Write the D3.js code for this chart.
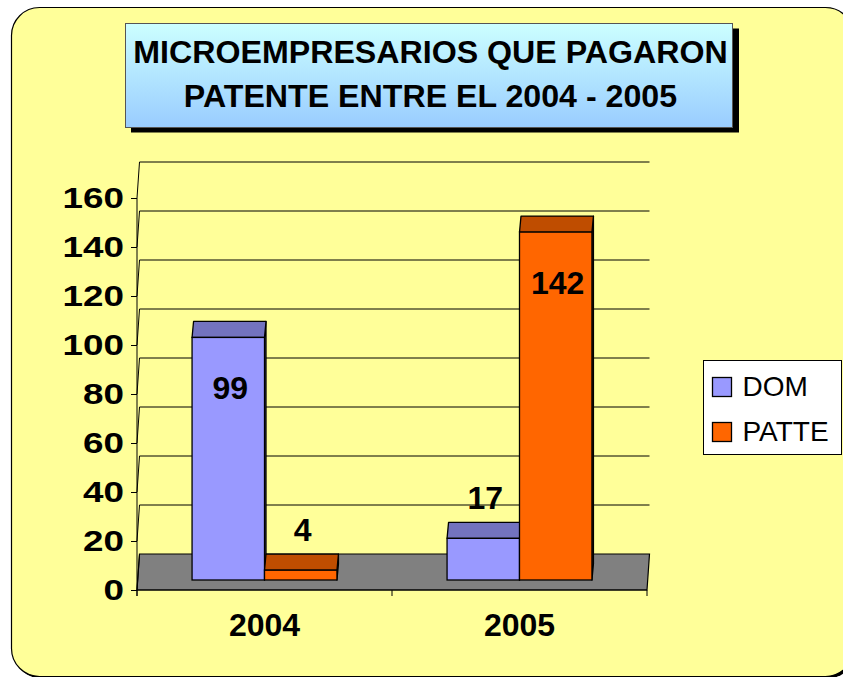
<!DOCTYPE html>
<html>
<head>
<meta charset="utf-8">
<script src="https://cdn.jsdelivr.net/npm/d3@7"></script>
<style>
  body { margin: 0; background: #fff; }
  svg { display: block; font-family: "Liberation Sans", Arial, sans-serif; }
</style>
</head>
<body>
<svg id="chart" width="843" height="677"></svg>
<script>
'use strict';

// data
const years = ['2004', '2005'];
const series = ['DOM', 'PATTE'];
const DOM = [99, 17];
const PATTE = [4, 142];
const yTicks = [0, 20, 40, 60, 80, 100, 120, 140, 160];
const titleLines = ['MICROEMPRESARIOS QUE PAGARON', 'PATENTE ENTRE EL 2004 - 2005'];

const colors = { DOM: '#9999ff', PATTE: '#ff6600' };
const darker = { DOM: '#7373bf', PATTE: '#bf4d00' };

const svg = d3.select('#chart');

// chart area with shadow
svg.append('rect')
	.attr('x', 13.5).attr('y', 9.5).attr('width', 842).attr('height', 669)
	.attr('rx', 28).attr('fill', '#000');
svg.append('rect')
	.attr('x', 11.5).attr('y', 7.5).attr('width', 842).attr('height', 669)
	.attr('rx', 28).attr('fill', '#ffff99').attr('stroke', '#000').attr('stroke-width', 1.2);

// 3d geometry: front / back offsets
const depth = { dx: 2.5, dy: -36 };
const barDepth = { dx: 1.5, dy: -16 };

const x0 = d3.scaleBand().domain(years).range([137, 647]);
const x1 = d3.scaleBand().domain(series).range([0, x0.bandwidth()]).paddingOuter(0.76);

const yAxis = d3.scaleLinear().domain([0, 160]).range([590, 198]);
const yBar = d3.scaleLinear().domain([0, 160]).range([580, 188]);
const yBack = v => yAxis(v) + depth.dy;

const g = svg.append('g');

// floor
const floor = [[137, 590], [137 + depth.dx, 554], [647 + depth.dx, 554], [647, 590]];
g.append('path')
	.attr('d', d3.line()(floor) + 'Z')
	.attr('fill', '#808080')
	.attr('stroke', '#000')
	.attr('stroke-width', 1.2);

// back wall gridlines
g.append('g')
	.selectAll('line')
	.data(yTicks.filter(d => d > 0))
	.join('line')
	.attr('x1', 137 + depth.dx).attr('x2', 647 + depth.dx)
	.attr('y1', d => yBack(d)).attr('y2', d => yBack(d))
	.attr('stroke', '#000').attr('stroke-width', 1);

// side wall gridlines (seen nearly edge on)
g.append('g')
	.selectAll('line')
	.data(yTicks)
	.join('line')
	.attr('x1', 137).attr('x2', 137 + depth.dx)
	.attr('y1', d => yAxis(d)).attr('y2', d => yBack(d))
	.attr('stroke', '#000').attr('stroke-width', 1);

// value axis
g.append('line')
	.attr('x1', 137).attr('x2', 137)
	.attr('y1', yAxis(0) + 6).attr('y2', yAxis(160))
	.attr('stroke', '#000').attr('stroke-width', 1);

const stretch = 1.27; // tick labels are drawn wide in the original
const axisL = d3.axisLeft(yAxis).tickValues(yTicks).tickSize(6).tickPadding(6);
const $ay = g.append('g').attr('transform', 'translate(137,0)').call(axisL);
$ay.select('.domain').remove();
$ay.selectAll('.tick line').attr('stroke', '#000');
$ay.selectAll('.tick text')
	.attr('x', -13 / stretch)
	.attr('transform', 'scale(' + stretch + ',1)')
	.attr('font-size', 29).attr('font-weight', 'bold').attr('fill', '#000')
	.attr('font-family', '"Liberation Sans", Arial, sans-serif');

// category axis
g.append('line')
	.attr('x1', 137).attr('x2', 647).attr('y1', 590).attr('y2', 590)
	.attr('stroke', '#000').attr('stroke-width', 1.2);
g.append('g')
	.selectAll('line')
	.data([137, x0('2005'), 647])
	.join('line')
	.attr('x1', d => d).attr('x2', d => d)
	.attr('y1', 590).attr('y2', 596)
	.attr('stroke', '#000');
g.append('g')
	.selectAll('text')
	.data(years)
	.join('text')
	.attr('x', d => x0(d) + x0.bandwidth() / 2)
	.attr('y', 636)
	.attr('text-anchor', 'middle')
	.attr('font-size', 32).attr('font-weight', 'bold')
	.text(d => d);

// bars
const bars = [];
years.forEach((yr, i) => {
	bars.push({ year: yr, key: 'DOM', value: DOM[i] });
	bars.push({ year: yr, key: 'PATTE', value: PATTE[i] });
});

const $bars = g.append('g').selectAll('g').data(bars).join('g');

$bars.each(function(d) {
	const $b = d3.select(this);
	const xl = x0(d.year) + x1(d.key);
	const xr = xl + x1.bandwidth();
	const yb = yBar(0);
	const yt = yBar(d.value);
	const dx = barDepth.dx, dy = barDepth.dy;

	// right side face
	$b.append('path')
		.attr('d', d3.line()([[xr, yb], [xr + dx, yb + dy], [xr + dx, yt + dy], [xr, yt]]) + 'Z')
		.attr('fill', darker[d.key]).attr('stroke', '#000').attr('stroke-width', 1.3)
		.attr('stroke-linejoin', 'round');
	// top face
	$b.append('path')
		.attr('d', d3.line()([[xl, yt], [xl + dx, yt + dy], [xr + dx, yt + dy], [xr, yt]]) + 'Z')
		.attr('fill', darker[d.key]).attr('stroke', '#000').attr('stroke-width', 1.3)
		.attr('stroke-linejoin', 'round');
	// front face
	$b.append('rect')
		.attr('x', xl).attr('y', yt)
		.attr('width', xr - xl).attr('height', yb - yt)
		.attr('fill', colors[d.key]).attr('stroke', '#000').attr('stroke-width', 1.3);
});

// data labels
g.append('g')
	.selectAll('text')
	.data(bars)
	.join('text')
	.attr('x', d => x0(d.year) + x1(d.key) + x1.bandwidth() / 2 + 2)
	.attr('y', d => d.value > 50 ? yBar(d.value) + 62 : yBar(d.value) - 29)
	.attr('text-anchor', 'middle')
	.attr('font-size', 32).attr('font-weight', 'bold')
	.text(d => d.value);

// legend
const $leg = svg.append('g').attr('transform', 'translate(703.5,360.5)');
$leg.append('rect')
	.attr('width', 138).attr('height', 94)
	.attr('fill', '#fff').attr('stroke', '#000').attr('stroke-width', 1);
const $li = $leg.selectAll('g.item')
	.data(series)
	.join('g')
	.attr('class', 'item')
	.attr('transform', (d, i) => 'translate(9,' + (17 + i * 45) + ')');
$li.append('rect')
	.attr('width', 19).attr('height', 19)
	.attr('fill', d => colors[d]).attr('stroke', '#000').attr('stroke-width', 1.3);
$li.append('text')
	.attr('x', 30).attr('y', 18.5)
	.attr('font-size', 28)
	.text(d => d);

// title box
const $t = svg.append('g');
const grad = svg.append('defs').append('linearGradient')
	.attr('id', 'tgrad').attr('x1', 0).attr('x2', 0).attr('y1', 0).attr('y2', 1);
grad.append('stop').attr('offset', '0%').attr('stop-color', '#ccffff');
grad.append('stop').attr('offset', '100%').attr('stop-color', '#99ccff');

$t.append('rect')
	.attr('x', 131).attr('y', 28.5).attr('width', 608).attr('height', 104)
	.attr('fill', '#000');
$t.append('rect')
	.attr('x', 125.5).attr('y', 23.5).attr('width', 607).attr('height', 104)
	.attr('fill', 'url(#tgrad)').attr('stroke', '#555').attr('stroke-width', 1);
const tStretch = 1.055;
$t.selectAll('text')
	.data(titleLines)
	.join('text')
	.attr('x', 430.5 / tStretch)
	.attr('y', (d, i) => 63.5 + i * 43.5)
	.attr('transform', 'scale(' + tStretch + ',1)')
	.attr('text-anchor', 'middle')
	.attr('font-size', 30.5).attr('font-weight', 'bold')
	.text(d => d);
</script>
</body>
</html>
